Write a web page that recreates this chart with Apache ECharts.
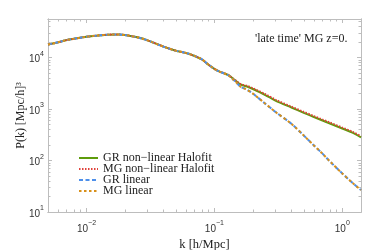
<!DOCTYPE html>
<html><head><meta charset="utf-8">
<script src="https://cdn.jsdelivr.net/npm/echarts@6/dist/echarts.min.js"></script>
<style>html,body{margin:0;padding:0;background:#fff}#c{width:374px;height:250px}</style>
</head><body><div id="c"></div>
<script>
// ---- data ----
const kValues = [0.005,0.006,0.007,0.008,0.01,0.012,0.015,0.018,0.02,0.025,0.03,0.04,0.05,0.06,0.07,0.08,0.09,0.1,0.11,0.12,0.13,0.14,0.15,0.16,0.18,0.2,0.25,0.3,0.4,0.5,0.6,0.7,0.8,1.0,1.2,1.4];
const grNonLinear = [17880,19730,21870,23170,25340,26620,27830,27960,27350,24670,21580,16280,13550,12230,10700,9150,7250,6030,5320,4910,4490,3880,3370,2990,2740,2445,1870,1460,1069,844,699,598,523,418,348,282];
const mgNonLinear = [17880,19730,21870,23170,25340,26620,27830,27960,27350,24670,21580,16280,13550,12230,10700,9150,7250,6030,5320,4910,4500,3900,3420,3060,2820,2530,1940,1520,1110,880,728,624,546,436,362,294];
const grLinear    = [17880,19730,21870,23170,25340,26620,27830,27960,27350,24670,21580,16300,13600,12300,10750,9200,7250,6000,5300,4880,4420,3760,3180,2720,2370,1990,1270,880,515,305,196,136,96,56,37,26.7];
const mgLinear    = [17880,19730,21870,23170,25340,26620,27830,27960,27350,24670,21580,16300,13600,12300,10750,9200,7250,6000,5300,4880,4420,3760,3180,2720,2370,1990,1270,880,515,305,196,136,96,56,37,26.7];
const seriesNames = ['GR non\u2212linear Halofit','MG non\u2212linear Halofit','GR linear','MG linear'];
const xMajorTicks = [0.01, 0.1, 1];
const xTickExponents = ['\u22122', '\u22121', '0'];
const xMinorTicks = [0.005,0.006,0.007,0.008,0.009,0.02,0.03,0.04,0.05,0.06,0.07,0.08,0.09,0.2,0.3,0.4,0.5,0.6,0.7,0.8,0.9];
const yMajorTicks = [10, 100, 1000, 10000];
const yTickExponents = ['1', '2', '3', '4'];
const yMinorTicks = [20,30,40,50,60,70,80,90,200,300,400,500,600,700,800,900,2000,3000,4000,5000,6000,7000,8000,9000,20000,30000,40000,50000];
const annotation = "'late time' MG z=0.";
const xTitle = 'k [h/Mpc]';
const yTitle = 'P(k) [Mpc/h]\u00b3';

// ---- chart ----
const frame = '#bdbdbd';
const serif = "'Liberation Serif','DejaVu Serif',serif";
const sans = "'Liberation Sans','DejaVu Sans',sans-serif";
const X_MIN = 0.005, X_MAX = 1.4, Y_MIN = 10, Y_MAX = 56000;

function fmt(ticks, exps) {
  return function (v) {
    const i = ticks.findIndex(t => Math.abs(t - v) / t < 1e-6);
    return i < 0 ? '' : '{b|10}{e|' + exps[i] + '}';
  };
}
const rich = {
  b: { fontFamily: sans, fontSize: 10, color: '#333', lineHeight: 14, verticalAlign: 'bottom' },
  e: { fontFamily: sans, fontSize: 7, color: '#333', lineHeight: 14, verticalAlign: 'top' }
};

function axis(kind, pos, ticks, len, extra) {
  return Object.assign({
    type: 'log', logBase: 10,
    min: kind === 'x' ? X_MIN : Y_MIN, max: kind === 'x' ? X_MAX : Y_MAX,
    position: pos,
    axisLine: { show: true, lineStyle: { color: frame, width: 1 } },
    splitLine: { show: false },
    axisTick: { show: true, inside: true, length: len, customValues: ticks, lineStyle: { color: frame } },
    axisLabel: { show: false }
  }, extra || {});
}

const chart = echarts.init(document.getElementById('c'), null, { renderer: 'canvas' });
const colors = ['#5e9c0c', '#e0413a', '#4d8fea', '#d8901a'];
const types = ['solid', [1.5, 1.5], [4, 2.5], [2.5, 2.5]];
const dataSets = [grNonLinear, mgNonLinear, grLinear, mgLinear];

chart.setOption({
  animation: false,
  grid: { left: 48, right: 13, top: 19, bottom: 38, containLabel: false, outerBoundsMode: 'none' },
  xAxis: [
    axis('x', 'bottom', xMajorTicks, 4, {
      axisLabel: { show: true, customValues: xMajorTicks, formatter: fmt(xMajorTicks, xTickExponents), rich: rich, margin: 8 },
      name: xTitle, nameLocation: 'middle', nameGap: 26, nameMoveOverlap: false,
      nameTextStyle: { fontFamily: serif, fontSize: 12.5, color: '#222' }
    }),
    axis('x', 'bottom', xMinorTicks, 2.5),
    axis('x', 'top', xMajorTicks, 4),
    axis('x', 'top', xMinorTicks, 2.5)
  ],
  yAxis: [
    axis('y', 'left', yMajorTicks, 4, {
      axisLabel: { show: true, customValues: yMajorTicks, formatter: fmt(yMajorTicks, yTickExponents), rich: rich, margin: 4 },
      name: yTitle, nameLocation: 'middle', nameGap: 21, nameRotate: 90, nameMoveOverlap: false,
      nameTextStyle: { fontFamily: serif, fontSize: 12, color: '#222' }
    }),
    axis('y', 'left', yMinorTicks, 2.5),
    axis('y', 'right', yMajorTicks, 4),
    axis('y', 'right', yMinorTicks, 2.5)
  ],
  legend: {
    orient: 'vertical', left: 73, top: 147,
    itemWidth: 19, itemHeight: 10, itemGap: -1,
    itemStyle: { opacity: 0 },
    textStyle: { fontFamily: serif, fontSize: 12, color: '#222', lineHeight: 10 },
    data: seriesNames
  },
  graphic: [{
    type: 'text', left: 255, top: 33,
    style: { text: annotation, font: "12px 'Liberation Serif', serif", fill: '#222' }
  }],
  series: dataSets.map((d, i) => ({
    name: seriesNames[i], type: 'line', xAxisIndex: 0, yAxisIndex: 0,
    symbol: 'none', smooth: 0.3,
    data: kValues.map((k, j) => [k, d[j]]),
    lineStyle: { color: colors[i], width: 2, type: types[i] },
    itemStyle: { color: colors[i] },
    z: 2 + i
  }))
});
</script></body></html>
